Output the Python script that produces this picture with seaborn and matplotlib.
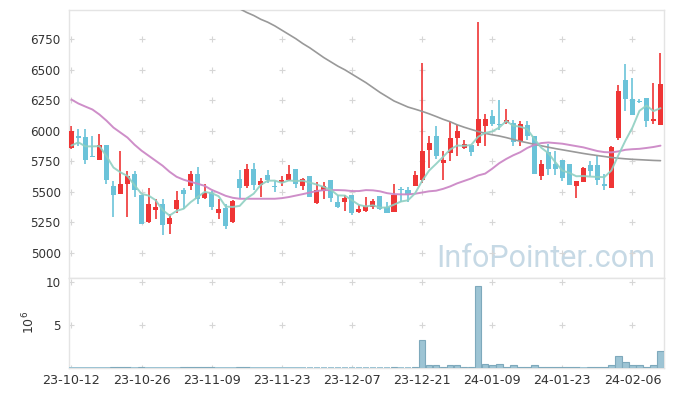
import numpy as np
import pandas as pd
import matplotlib
matplotlib.use("Agg")
import matplotlib.pyplot as plt
import seaborn as sns

# ---------------- data ----------------
holidays = ["2023-12-25", "2023-12-29", "2024-01-01", "2024-02-09", "2024-02-12"]
dates = pd.bdate_range("2023-10-12", "2024-02-14", freq="C", holidays=holidays)

opens = [5857, 5961, 5947, 5791, 5758, 5887, 5550, 5487, 5561, 5649,
         5476, 5257, 5356, 5402, 5236, 5359, 5517, 5550, 5649, 5454,
         5490, 5326, 5372, 5257, 5608, 5545, 5690, 5553, 5641, 5550,
         5581, 5594, 5688, 5545, 5633, 5408, 5504, 5600, 5419, 5421,
         5476, 5334, 5347, 5380, 5468, 5380, 5334, 5523, 5512, 5545,
         5600, 5846, 5961, 5737, 5819, 5942, 5860, 5887, 5901, 6043,
         6125, 6060, 6066, 6066, 5914, 6052, 5956, 5627, 5824, 5731,
         5764, 5731, 5545, 5578, 5723, 5723, 5567, 5531, 5942, 6413,
         6262, 6243, 6271, 6079, 6046]
highs = [6043, 6016, 6016, 5956, 5975, 5887, 5591, 5838, 5668, 5674,
         5476, 5531, 5444, 5441, 5318, 5509, 5534, 5674, 5704, 5567,
         5510, 5441, 5402, 5435, 5682, 5729, 5737, 5618, 5682, 5591,
         5633, 5723, 5688, 5618, 5633, 5578, 5578, 5600, 5476, 5476,
         5476, 5394, 5462, 5444, 5468, 5416, 5564, 5537, 5540, 5668,
         6553, 5956, 6043, 5832, 6084, 6052, 5922, 5887, 6895, 6142,
         6175, 6249, 6180, 6087, 6084, 6084, 5956, 5758, 5895, 5832,
         5764, 5731, 5591, 5704, 5750, 5797, 5649, 5879, 6372, 6544,
         6435, 6260, 6271, 6394, 6640]
lows = [5854, 5873, 5729, 5783, 5758, 5564, 5293, 5487, 5293, 5462,
        5238, 5244, 5279, 5148, 5154, 5331, 5361, 5517, 5400, 5441,
        5350, 5277, 5197, 5249, 5449, 5531, 5517, 5462, 5573, 5499,
        5545, 5586, 5531, 5517, 5462, 5400, 5441, 5421, 5372, 5347,
        5312, 5326, 5334, 5361, 5353, 5326, 5334, 5421, 5421, 5545,
        5573, 5696, 5770, 5600, 5750, 5791, 5852, 5791, 5873, 5873,
        6038, 6010, 6060, 5873, 5873, 5928, 5649, 5600, 5635, 5641,
        5586, 5559, 5449, 5578, 5633, 5559, 5512, 5531, 5928, 6160,
        6134, 6230, 6033, 6060, 6046]
closes = [6002, 5939, 5764, 5783, 5887, 5594, 5471, 5567, 5633, 5512,
          5238, 5402, 5380, 5228, 5285, 5430, 5487, 5649, 5441, 5493,
          5380, 5361, 5224, 5427, 5536, 5690, 5553, 5586, 5594, 5540,
          5600, 5649, 5564, 5608, 5462, 5517, 5550, 5449, 5380, 5454,
          5326, 5359, 5386, 5427, 5359, 5331, 5476, 5515, 5476, 5641,
          5838, 5901, 5791, 5764, 5942, 6002, 5890, 5824, 6101, 6101,
          6060, 6049, 6093, 5910, 6060, 5961, 5649, 5731, 5688, 5690,
          5614, 5559, 5591, 5696, 5668, 5600, 5550, 5865, 6325, 6262,
          6134, 6235, 6079, 6101, 6380]
# closes of the four sessions before the window (for the 5-day average)
prev_closes = [5809, 5929, 5783, 5877]

ma20 = [6257, 6224, 6199, 6175, 6134, 6084, 6027, 5986, 5945, 5887,
        5838, 5797, 5756, 5715, 5665, 5624, 5600, 5583, 5567, 5550,
        5517, 5493, 5468, 5452, 5444, 5444, 5444, 5444, 5444, 5444,
        5449, 5458, 5470, 5482, 5495, 5507, 5515, 5515, 5515, 5513,
        5507, 5507, 5515, 5513, 5505, 5490, 5482, 5480, 5480, 5485,
        5495, 5505, 5510, 5525, 5545, 5570, 5590, 5610, 5635, 5650,
        5690, 5735, 5770, 5800, 5825, 5860, 5885, 5900, 5905, 5900,
        5895, 5885, 5875, 5865, 5850, 5835, 5826, 5824, 5832, 5845,
        5850, 5853, 5860, 5868, 5879]
ma60 = [np.nan] * 22 + [
        7060, 7030, 7000, 6970, 6945, 6914, 6890, 6860,
        6825, 6790, 6755, 6715, 6680, 6640, 6600, 6565, 6530, 6500,
        6465, 6430, 6395, 6355, 6315, 6280, 6245, 6220, 6195, 6178,
        6160, 6140, 6118, 6095, 6075, 6050, 6030, 6012, 5995, 5980,
        5968, 5958, 5945, 5930, 5915, 5903, 5890, 5878, 5866, 5855,
        5845, 5835, 5825, 5815, 5806, 5798, 5790, 5782, 5776, 5771,
        5767, 5764, 5761, 5758, 5756]

volume_m = [0.005, 0.005, 0.005, 0.005, 0.005, 0.005, 0.1, 0.1, 0.1, 0.005,
            0.1, 0.005, 0.005, 0.005, 0.005, 0.005, 0.1, 0.1, 0.1, 0.1,
            0.1, 0.005, 0.005, 0.005, 0.1, 0.1, 0.005, 0.005, 0.005, 0.005,
            0.005, 0.005, 0.005, 0.005, 0.005, 0.005, 0.005, 0.005, 0.005, 0.005,
            0.005, 0.005, 0.005, 0.005, 0.005, 0.005, 0.1, 0.005, 0.005, 0.1,
            3.22, 0.27, 0.27, 0.1, 0.27, 0.27, 0.1, 0.1, 9.55, 0.39,
            0.27, 0.39, 0.1, 0.27, 0.1, 0.1, 0.27, 0.1, 0.1, 0.1,
            0.1, 0.1, 0.1, 0.005, 0.1, 0.1, 0.1, 0.35, 1.35, 0.6,
            0.35, 0.27, 0.1, 0.27, 1.9]

# ---------------- frame ----------------
df = pd.DataFrame({"date": dates, "open": opens, "high": highs, "low": lows,
                   "close": closes, "ma20": ma20, "ma60": ma60,
                   "volume": np.array(volume_m) * 1e6})
df["idx"] = np.arange(len(df))
ext = pd.Series(prev_closes + closes)
df["ma5"] = ext.rolling(5).mean().iloc[len(prev_closes):].values

sns.set_theme(style="white")
plt.rcParams["font.family"] = ["DejaVu Sans"]

RED = "#ef3535"
BLUE = "#6bc3d9"
GRID = "#d6d6d6"
SPINE = "#e4e4e4"
TXT = "#333333"

fig = plt.figure(figsize=(6.73, 3.96), dpi=100)
W, H = 673, 396
L, R = 69 / W, 664 / W
ax = fig.add_axes([L, 1 - 278 / H, R - L, (278 - 10) / H])
axv = fig.add_axes([L, 1 - 367.5 / H, R - L, (367.5 - 278) / H], sharex=ax)

up = df["close"] >= df["open"]
colors = np.where(up, RED, BLUE)
body_lo = np.minimum(df["open"], df["close"])
body_h = np.maximum(np.abs(df["close"] - df["open"]), 9)

# wicks
ax.vlines(df["idx"], df["low"], df["high"], colors=colors, linewidth=1.2, zorder=2)
# bodies
ax.bar(df["idx"], body_h, bottom=body_lo, width=0.72, color=colors,
       edgecolor="none", linewidth=0, zorder=3)

# moving averages
sns.lineplot(data=df, x="idx", y="ma60", ax=ax, color="#999999", linewidth=1.2,
             zorder=4, legend=False)
sns.lineplot(data=df, x="idx", y="ma20", ax=ax, color="#cc88c6", linewidth=1.4,
             alpha=0.95, zorder=4, legend=False)
sns.lineplot(data=df, x="idx", y="ma5", ax=ax, color="#8fd0c2", linewidth=1.4,
             alpha=0.9, zorder=5, legend=False)

ax.set_xlim(-0.34, 84.5)
ax.set_ylim(4795, 6990)
yt = np.arange(5000, 6751, 250)
ax.set_yticks(yt)
ax.set_yticklabels([str(v) for v in yt], fontsize=8.6, color=TXT)
ax.set_xlabel("")
ax.set_ylabel("")
ax.tick_params(axis="x", labelbottom=False, length=0)
ax.tick_params(axis="y", length=0, pad=6)

xt = np.arange(0, 81, 10)
# grid crosses
gx, gy = np.meshgrid(xt, yt)
ax.plot(gx.ravel(), gy.ravel(), linestyle="none", marker="+", markersize=5,
        color=GRID, markeredgewidth=0.8, zorder=1)

ax.text(655 / W, 1 - 267 / H, "InfoPointer.com", transform=fig.transFigure,
        ha="right", va="baseline", fontsize=22, color="#c6d9e5",
        family=["Roboto", "DejaVu Sans"], zorder=0)

# volume
lw = np.where(df["volume"] > 5e4, 0.8, 0.0)
axv.bar(df["idx"], df["volume"], width=0.95, color="#9dc4d4",
        edgecolor="#7ea9bc", linewidth=lw, zorder=3)
axv.set_ylim(0, 10.5e6)
vt = [0, 5e6, 10e6]
axv.set_yticks(vt)
axv.set_yticklabels(["", "5", "10"], fontsize=8.6, color=TXT)
axv.set_ylabel(r"$10^6$", fontsize=9, color=TXT, labelpad=6)
vx, vy = np.meshgrid(xt, vt)
axv.plot(vx.ravel(), vy.ravel(), linestyle="none", marker="+", markersize=5,
         color=GRID, markeredgewidth=0.8, zorder=1)
axv.set_xticks(xt)
axv.set_xticklabels([dates[i].strftime("%y-%m-%d") for i in xt], fontsize=9.2,
                    color=TXT)
axv.tick_params(axis="both", length=0)
axv.tick_params(axis="y", pad=6)
axv.tick_params(axis="x", pad=5)
axv.set_xlabel("")

for a in (ax, axv):
    for s in a.spines.values():
        s.set_color(SPINE)
        s.set_linewidth(1.0)
    a.grid(False)

fig.savefig("out.png", dpi=100)
